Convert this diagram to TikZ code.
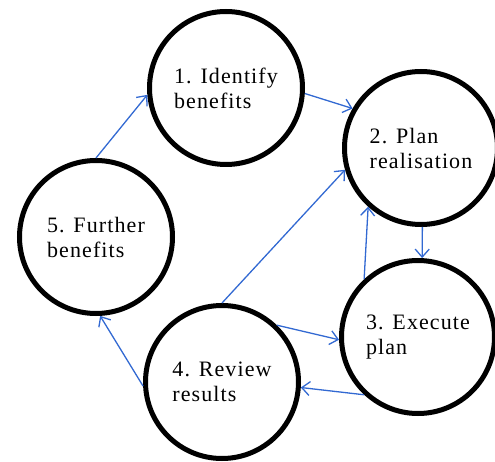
\documentclass[tikz,border=0pt]{standalone}
\usepackage{fontspec}
\setmainfont[LetterSpace=5]{Liberation Serif}
\usetikzlibrary{arrows.meta}
\definecolor{arrowblue}{RGB}{50,105,210}
\begin{document}
\begin{tikzpicture}[x=1pt,y=1pt,
        stage/.style={draw,circle,line width=5pt,minimum size=153pt,inner sep=0pt,align=left,font=\fontsize{22}{25}\selectfont},
        flow/.style={arrowblue,line width=1.3pt,-{Straight Barb[length=8pt,width=14pt]}}]
        \useasboundingbox (0,0) rectangle (495,461);
        \node[stage] (identify) at (226,373) {1. Identify\\benefits};
        \node[stage] (plan) at (421,313) {2. Plan\\realisation};
        \node[stage] (execute) at (418,124) {3. Execute\\plan};
        \node[stage] (review) at (222,79) {4. Review\\results};
        \node[stage] (further) at (96,224) {5. Further\\benefits};
        \draw[flow] (further.90) -- (identify.185);
        \draw[flow] (identify.-4) -- (plan.150);
        \draw[flow] (plan.-89) -- (execute.87);
        \draw[flow] (execute.133) -- (plan.228);
        \draw[flow] (review.90) -- (plan.196);
        \draw[flow] (review.46) -- (execute.182);
        \draw[flow] (execute.227) -- (review.-4);
        \draw[flow] (review.183) -- (further.273);
\end{tikzpicture}
\end{document}
